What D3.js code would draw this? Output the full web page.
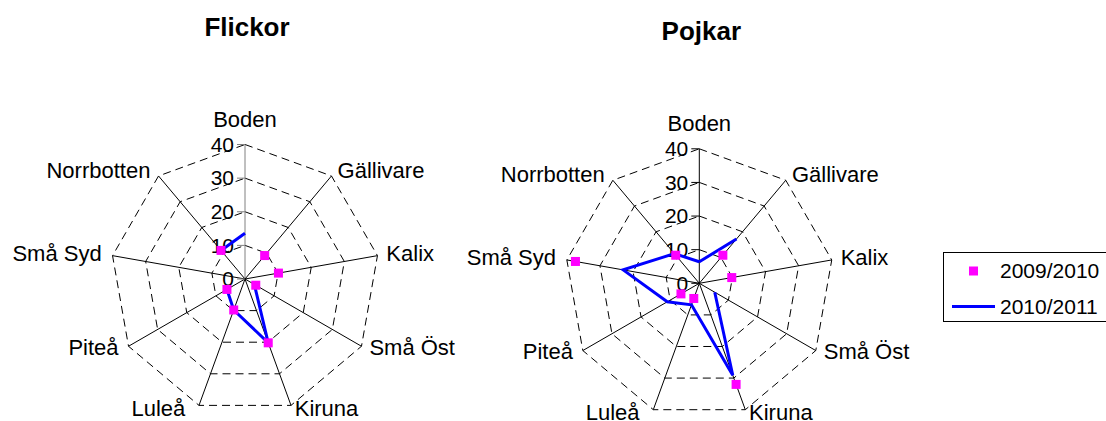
<!DOCTYPE html>
<html>
<head>
<meta charset="utf-8">
<script src="https://cdn.jsdelivr.net/npm/d3@7"></script>
<style>
  body { margin: 0; background: #fff; }
  svg { display: block; font-family: "Liberation Sans", Arial, sans-serif; }
</style>
</head>
<body>
<svg id="chart" width="1106" height="421"></svg>
<script>
const categories = ["Boden", "Gällivare", "Kalix", "Små Öst", "Kiruna", "Luleå", "Piteå", "Små Syd", "Norrbotten"];
const seriesNames = ["2009/2010", "2010/2011"];
const ticks = [0, 10, 20, 30, 40];

const flickor0910 = [null, 9.1, 10.1, 3.7, 20.2, 9.8, 6.2, null, 11.1];
const flickor1011 = [13.6, null, null, 3.2, 20.2, 9.8, 6.2, null, 11.1];
const pojkar0910 = [null, 10.9, 9.8, null, 32, 4.8, 6.3, 37.4, 10.9];
const pojkar1011 = [6.4, 17.2, null, 5.3, 29.1, 6.8, 11, 23, 11.5];

const svg = d3.select("#chart");
const radius = 134.5;
const rScale = d3.scaleLinear().domain([0, 40]).range([0, radius]);
const angle = (i) => (i * 2 * Math.PI) / categories.length;

const drawRadar = (title, cx, cy, titleY, markers, lineVals, axisColor) => {
  const g = svg.append("g").attr("transform", `translate(${cx},${cy})`);
  const pt = (i, v) => [Math.sin(angle(i)) * rScale(v), -Math.cos(angle(i)) * rScale(v)];

  svg
    .append("text")
    .attr("x", cx + 2)
    .attr("y", titleY)
    .attr("text-anchor", "middle")
    .attr("font-size", 26)
    .attr("font-weight", "bold")
    .text(title);

  // dashed grid
  ticks.slice(1).forEach((t) => {
    g.append("path")
      .attr("d", d3.line()(categories.map((c, i) => pt(i, t))) + "Z")
      .attr("fill", "none")
      .attr("stroke", "#000")
      .attr("stroke-dasharray", "8,5");
  });

  // spokes + category labels
  categories.forEach((c, i) => {
    const [x, y] = pt(i, 40);
    g.append("line")
      .attr("x1", 0)
      .attr("y1", 0)
      .attr("x2", x)
      .attr("y2", y)
      .attr("stroke", i === 0 ? axisColor : "#000");

    const s = Math.sin(angle(i));
    const co = Math.cos(angle(i));
    const lbl = g.append("text").attr("font-size", 22).text(c);
    if (i === 0) {
      lbl.attr("x", x).attr("y", y - 18).attr("text-anchor", "middle");
    } else {
      // Luleå sits a bit further from its spoke in the original
      const extra = c === "Luleå" ? -8 : 0;
      lbl
        .attr("x", x + s * 8 + (s > 0 ? 1 : -3) + extra)
        .attr("y", y + 6 - co * 5)
        .attr("text-anchor", s > 0 ? "start" : "end");
    }
  });

  // value axis ticks + labels
  ticks.forEach((t) => {
    const y = -rScale(t);
    g.append("line")
      .attr("x1", -8)
      .attr("x2", 0)
      .attr("y1", y)
      .attr("y2", y)
      .attr("stroke", axisColor);
    g.append("text")
      .attr("x", -11)
      .attr("y", y)
      .attr("dy", "0.35em")
      .attr("text-anchor", "end")
      .attr("font-size", 21)
      .text(t);
  });

  // 2010/2011 line (gaps where no value)
  const closed = lineVals.concat([lineVals[0]]);
  const radial = d3
    .lineRadial()
    .defined((d) => d != null)
    .angle((d, i) => angle(i))
    .radius((d) => rScale(d));
  g.append("path")
    .attr("d", radial(closed))
    .attr("fill", "none")
    .attr("stroke", "#0000FF")
    .attr("stroke-width", 3)
    .attr("stroke-linejoin", "miter");

  // 2009/2010 markers
  g.selectAll(".mk")
    .data(markers.map((v, i) => ({ v, i })).filter((d) => d.v != null))
    .enter()
    .append("rect")
    .attr("x", (d) => pt(d.i, d.v)[0] - 4.5)
    .attr("y", (d) => pt(d.i, d.v)[1] - 4.5)
    .attr("width", 9)
    .attr("height", 9)
    .attr("fill", "#FF00FF");
};

drawRadar("Flickor", 245, 279, 36, flickor0910, flickor1011, "#808080");
drawRadar("Pojkar", 699.3, 283.3, 40, pojkar0910, pojkar1011, "#000");

// legend
const legend = svg.append("g");
legend
  .append("rect")
  .attr("x", 943.5)
  .attr("y", 252.5)
  .attr("width", 170)
  .attr("height", 69)
  .attr("fill", "#fff")
  .attr("stroke", "#000");
legend
  .append("rect")
  .attr("x", 969)
  .attr("y", 266.5)
  .attr("width", 9)
  .attr("height", 9)
  .attr("fill", "#FF00FF");
legend
  .append("line")
  .attr("x1", 952)
  .attr("x2", 995)
  .attr("y1", 306.5)
  .attr("y2", 306.5)
  .attr("stroke", "#0000FF")
  .attr("stroke-width", 3);
legend
  .selectAll(".lt")
  .data(seriesNames)
  .enter()
  .append("text")
  .attr("x", 1000)
  .attr("y", (d, i) => 271 + i * 36)
  .attr("dy", "0.35em")
  .attr("font-size", 21)
  .text((d) => d);
</script>
</body>
</html>
